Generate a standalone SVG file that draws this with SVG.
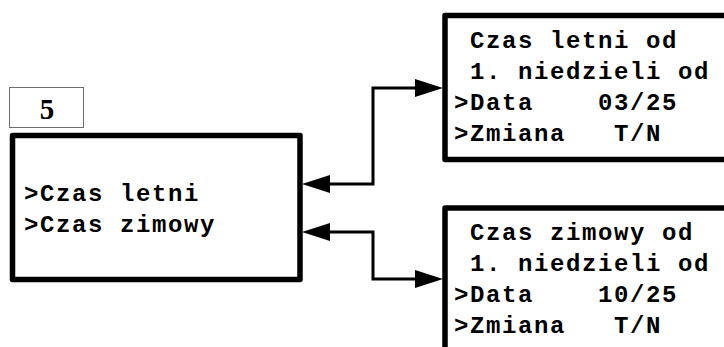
<svg xmlns="http://www.w3.org/2000/svg" width="724" height="347" viewBox="0 0 724 347">
  <style>
    .frame { fill: #ffffff; stroke: #000000; stroke-width: 5.5; stroke-linejoin: round; }
    .tag { fill: #ffffff; stroke: #6e6e6e; stroke-width: 1; }
    .lcd { font-family: "Liberation Mono", "DejaVu Sans Mono", monospace; font-weight: bold; font-size: 24px; letter-spacing: 1.6px; fill: #000000; }
    .num { font-family: "Liberation Serif", "Times New Roman", serif; font-weight: bold; font-size: 29px; fill: #000000; }
    .wire { fill: none; stroke: #000000; stroke-width: 3; stroke-linejoin: miter; }
  </style>
  <defs>
    <marker id="head" viewBox="0 0 28 18" refX="0" refY="9" markerWidth="28" markerHeight="18" markerUnits="userSpaceOnUse" orient="auto-start-reverse">
      <path d="M0,0 L28,9 L0,18 Z" fill="#000000"/>
    </marker>
  </defs>

  <rect width="724" height="347" fill="#ffffff"/>

  <!-- screen number tag -->
  <g id="tag-5">
    <rect class="tag" x="9.5" y="87.5" width="74" height="40"/>
    <text class="num" x="47" y="119" text-anchor="middle">5</text>
  </g>

  <!-- main menu screen -->
  <g id="menu">
    <rect class="frame" x="12.5" y="135.5" width="287.5" height="144"/>
    <text class="lcd" xml:space="preserve"><tspan x="24" y="201">&gt;Czas letni</tspan><tspan x="24" y="232">&gt;Czas zimowy</tspan></text>
  </g>

  <!-- summer time screen -->
  <g id="summer">
    <rect class="frame" x="445" y="15.5" width="300" height="144"/>
    <text class="lcd" xml:space="preserve"><tspan x="454" y="48"> Czas letni od</tspan><tspan x="454" y="79"> 1. niedzieli od</tspan><tspan x="454" y="110">&gt;Data    03/25</tspan><tspan x="454" y="141">&gt;Zmiana   T/N</tspan></text>
  </g>

  <!-- winter time screen -->
  <g id="winter">
    <rect class="frame" x="445" y="208" width="300" height="160"/>
    <text class="lcd" xml:space="preserve"><tspan x="454" y="240"> Czas zimowy od</tspan><tspan x="454" y="271"> 1. niedzieli od</tspan><tspan x="454" y="302">&gt;Data    10/25</tspan><tspan x="454" y="333">&gt;Zmiana   T/N</tspan></text>
  </g>

  <!-- connectors -->
  <g id="connectors">
    <path class="wire" d="M330,184 H373 V88 H415" marker-start="url(#head)" marker-end="url(#head)"/>
    <path class="wire" d="M330,232 H373 V279 H415" marker-start="url(#head)" marker-end="url(#head)"/>
  </g>
</svg>
